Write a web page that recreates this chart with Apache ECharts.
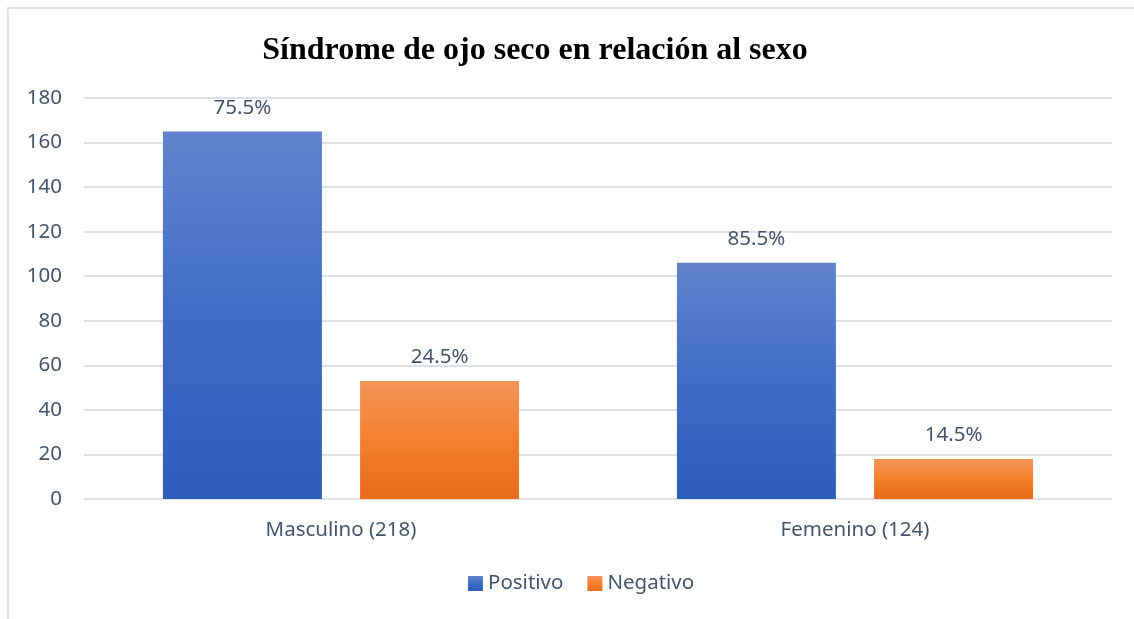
<!DOCTYPE html>
<html><head><meta charset="utf-8">
<script src="https://cdn.jsdelivr.net/npm/echarts@6/dist/echarts.min.js"></script>
<style>html,body{margin:0;padding:0;background:#fff}#frame{position:absolute;left:7px;top:7px;width:1140px;height:620px;border:2px solid #dfe3e8;box-sizing:border-box}#c{position:absolute;left:0;top:0;width:1134px;height:619px}</style>
</head><body><div id="frame"></div><div id="c"></div>
<script>
const categories = ['Masculino (218)', 'Femenino (124)'];
const positivo = [165, 106];
const negativo = [53, 18];
const positivoPct = ['75.5%', '85.5%'];
const negativoPct = ['24.5%', '14.5%'];
const yTicks = [0, 20, 40, 60, 80, 100, 120, 140, 160, 180];

const txt = '#44546a';
const font = 'Noto Sans';
const fs = 20.5;
function grad(top, mid, bottom) {
  return new echarts.graphic.LinearGradient(0, 0, 0, 1, [
    {offset: 0, color: top}, {offset: 0.5, color: mid}, {offset: 1, color: bottom}]);
}
const chart = echarts.init(document.getElementById('c'));
chart.setOption({
  animation: false,
  title: {
    text: 'Síndrome de ojo seco en relación al sexo',
    left: 530, top: 30, textAlign: 'center',
    textStyle: {fontFamily: 'Liberation Serif', fontWeight: 'bold', fontSize: 32, color: '#000'}
  },
  legend: {
    bottom: 20, left: 463, itemWidth: 15, itemHeight: 15, itemGap: 24,
    icon: 'rect',
    textStyle: {fontFamily: font, fontSize: fs, color: txt, padding: [0, 0, 0, 0]},
    data: ['Positivo', 'Negativo']
  },
  grid: {left: 84, right: 22, top: 98, bottom: 120, containLabel: false},
  xAxis: {
    type: 'category', data: categories,
    axisLine: {show: false}, axisTick: {show: false},
    axisLabel: {fontFamily: font, fontSize: fs, color: txt, margin: 21}
  },
  yAxis: {
    type: 'value', min: yTicks[0], max: yTicks[yTicks.length - 1], interval: 20,
    axisLine: {show: false}, axisTick: {show: false},
    axisLabel: {fontFamily: font, fontSize: fs, color: txt, margin: 22},
    splitLine: {lineStyle: {color: '#dde2e8', width: 2}}
  },
  series: [
    {
      name: 'Positivo', type: 'bar', data: positivo, barWidth: 159, barGap: '24%',
      itemStyle: {color: grad('#6283cc', '#3f6cc6', '#2d5dbb')},
      label: {show: true, position: 'top', distance: 13, fontFamily: font, fontSize: fs, color: txt,
        formatter: p => positivoPct[p.dataIndex]}
    },
    {
      name: 'Negativo', type: 'bar', data: negativo, barWidth: 159,
      itemStyle: {color: grad('#f39458', '#f5802c', '#e86c1a')},
      label: {show: true, position: 'top', distance: 13, fontFamily: font, fontSize: fs, color: txt,
        formatter: p => negativoPct[p.dataIndex]}
    }
  ]
});
</script></body></html>
